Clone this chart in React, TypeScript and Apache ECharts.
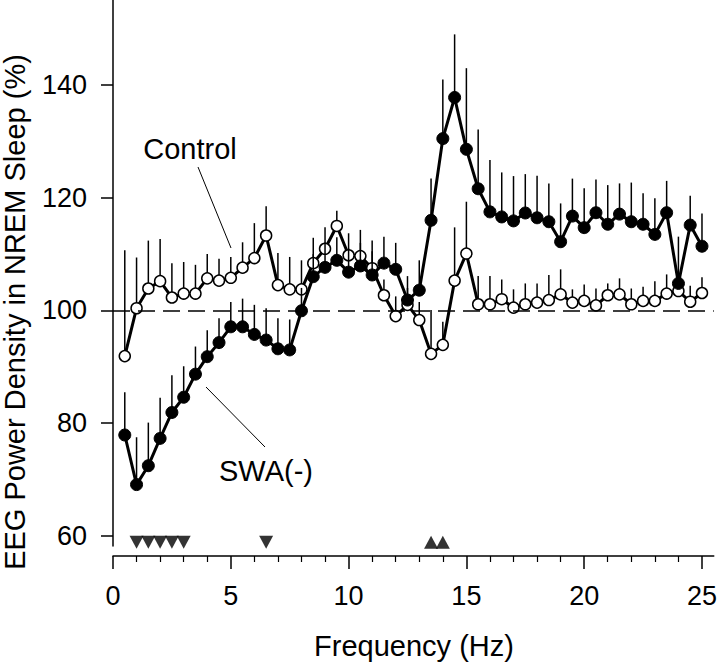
import React, { useEffect, useRef } from "react";
import * as echarts from "echarts";

const freqHz = [
  0.5, 1, 1.5, 2, 2.5, 3, 3.5, 4, 4.5, 5,
  5.5, 6, 6.5, 7, 7.5, 8, 8.5, 9, 9.5, 10,
  10.5, 11, 11.5, 12, 12.5, 13, 13.5, 14, 14.5, 15,
  15.5, 16, 16.5, 17, 17.5, 18, 18.5, 19, 19.5, 20,
  20.5, 21, 21.5, 22, 22.5, 23, 23.5, 24, 24.5, 25,
];

const controlMean = [
  91.9, 100.4, 103.9, 105.2, 102.3, 103.0, 103.0, 105.7, 105.3, 105.8,
  107.6, 109.3, 113.3, 104.5, 103.75, 103.75, 108.4, 110.95, 115.0, 109.8,
  109.65, 107.5, 102.7, 99.0, 101.0, 98.3, 92.3, 93.9, 105.3, 110.1,
  101.1, 101.1, 102.0, 100.5, 101.1, 101.4, 101.85, 102.85, 101.4, 101.7,
  100.9, 102.7, 102.85, 101.1, 101.7, 101.7, 103.0, 103.45, 101.55, 103.1,
];

const controlUpper = [
  110.7, 109.4, 112.4, 112.7, 108.4, 108.6, 108.1, 110.0, 109.2, 109.5,
  112.1, 115.5, 118.5, 110.2, 109.5, 108.9, 112.9, 114.75, 117.7, 113.7,
  114.3, 112.4, 105.5, 102.5, 104.0, 101.5, 100.1, 98.0, 114.75, 119.3,
  106.1, 106.1, 105.5, 103.75, 104.8, 104.8, 106.3, 107.3, 103.75, 104.6,
  103.9, 104.8, 105.7, 103.9, 104.2, 105.2, 106.4, 106.0, 104.4, 105.9,
];

const swaMean = [
  77.9, 69.1, 72.45, 77.3, 81.9, 84.6, 88.7, 91.8, 94.3, 97.1,
  97.1, 95.75, 94.75, 93.2, 93.0, 99.95, 106.0, 107.65, 108.9, 106.8,
  107.9, 106.3, 108.4, 107.3, 101.85, 103.6, 116.0, 130.5, 137.8, 128.6,
  121.6, 117.5, 116.6, 115.9, 117.3, 116.45, 115.75, 112.2, 116.75, 114.7,
  117.35, 115.3, 117.1, 115.75, 115.3, 113.5, 117.35, 104.8, 115.15, 111.4,
];

const swaUpper = [
  85.5, 77.5, 80.1, 84.5, 88.5, 90.1, 93.6, 96.5, 98.6, 101.5,
  102.1, 101.0, 100.4, 98.6, 98.4, 104.0, 110.0, 112.0, 113.0, 111.0,
  112.0, 110.5, 113.1, 112.0, 106.1, 108.9, 123.4, 141.0, 149.0, 143.0,
  132.1, 126.7, 124.5, 123.85, 124.2, 123.9, 122.55, 119.0, 123.4, 121.7,
  123.25, 122.25, 122.55, 122.7, 120.8, 119.9, 123.0, 113.1, 120.35, 117.2,
];

const downMarkFreqs = [1, 1.5, 2, 2.5, 3, 6.5];
const upMarkFreqs = [13.5, 14];
const markLevel = 58.85;

const yTickValues = [60, 80, 100, 120, 140];
const xMajorTicks = [0, 5, 10, 15, 20, 25];
const xMinorTicks = [1, 2, 3, 4, 6, 7, 8, 9, 11, 12, 13, 14, 16, 17, 18, 19, 21, 22, 23, 24];

const FONT = "'Liberation Sans', Arial, Helvetica, sans-serif";

function errorBarSeries(mean: number[], upper: number[], z: number) {
  return {
    type: "custom",
    z,
    silent: true,
    data: freqHz.map((f, i) => [f, mean[i], upper[i]]),
    renderItem: (params: any, api: any) => {
      const p1 = api.coord([api.value(0), api.value(1)]);
      const p2 = api.coord([api.value(0), api.value(2)]);
      return {
        type: "line",
        shape: { x1: p1[0], y1: p1[1], x2: p2[0], y2: p2[1] },
        style: { stroke: "#000", lineWidth: 1.5 },
      };
    },
  };
}

export default function App() {
  const ref = useRef<HTMLDivElement>(null);

  useEffect(() => {
    if (!ref.current) return;
    const chart = echarts.init(ref.current, null, { renderer: "svg" });
    const option: any = {
      animation: false,
      backgroundColor: "#fff",
      grid: { left: 113, right: 2, top: 0, bottom: 118 },
      xAxis: [
        {
          type: "value",
          min: 0,
          max: 25.5,
          offset: 10,
          position: "bottom",
          splitLine: { show: false },
          axisLine: { show: true, lineStyle: { color: "#000", width: 1.5 } },
          axisTick: {
            show: true,
            length: 13,
            customValues: xMajorTicks,
            lineStyle: { color: "#000", width: 1.5 },
          },
          axisLabel: {
            customValues: xMajorTicks,
            margin: 26,
            fontSize: 27,
            color: "#000",
            fontFamily: FONT,
          },
        },
        {
          type: "value",
          min: 0,
          max: 25.5,
          offset: 10,
          position: "bottom",
          splitLine: { show: false },
          axisLine: { show: false },
          axisTick: {
            show: true,
            length: 6,
            customValues: xMinorTicks,
            lineStyle: { color: "#000", width: 1.2 },
          },
          axisLabel: { show: false },
        },
      ],
      yAxis: {
        type: "value",
        min: 58.2,
        max: 155.1,
        splitLine: { show: false },
        axisLine: { show: true, lineStyle: { color: "#000", width: 1.5 } },
        axisTick: {
          show: true,
          length: 12,
          customValues: yTickValues,
          lineStyle: { color: "#000", width: 1.5 },
        },
        axisLabel: {
          customValues: yTickValues,
          margin: 26,
          fontSize: 27,
          color: "#000",
          fontFamily: FONT,
        },
      },
      series: [
        errorBarSeries(controlMean, controlUpper, 1),
        {
          type: "line",
          name: "Control",
          z: 2,
          data: freqHz.map((f, i) => [f, controlMean[i]]),
          symbol: "circle",
          symbolSize: 11,
          lineStyle: { color: "#000", width: 3 },
          itemStyle: { color: "#fff", borderColor: "#000", borderWidth: 1.5 },
          markLine: {
            silent: true,
            symbol: "none",
            label: { show: false },
            lineStyle: { color: "#000", width: 1.5, type: [17, 8] },
            data: [{ yAxis: 100 }],
          },
        },
        errorBarSeries(swaMean, swaUpper, 3),
        {
          type: "line",
          name: "SWA(-)",
          z: 4,
          data: freqHz.map((f, i) => [f, swaMean[i]]),
          symbol: "circle",
          symbolSize: 12,
          lineStyle: { color: "#000", width: 3 },
          itemStyle: { color: "#000", borderColor: "#000", borderWidth: 1 },
        },
        {
          type: "scatter",
          z: 5,
          clip: false,
          data: downMarkFreqs.map((f) => [f, markLevel]),
          symbol: "triangle",
          symbolRotate: 180,
          symbolSize: [14, 13],
          itemStyle: { color: "#000" },
        },
        {
          type: "scatter",
          z: 5,
          clip: false,
          data: upMarkFreqs.map((f) => [f, markLevel]),
          symbol: "triangle",
          symbolSize: [14, 13],
          itemStyle: { color: "#000" },
        },
      ],
      graphic: [
        {
          type: "text",
          x: 15,
          y: 312,
          rotation: Math.PI / 2,
          style: {
            text: "EEG Power Density in NREM Sleep (%)",
            font: `29px ${FONT}`,
            fill: "#000",
            textAlign: "center",
            textVerticalAlign: "middle",
          },
        },
        {
          type: "text",
          x: 414,
          y: 646,
          style: {
            text: "Frequency (Hz)",
            font: `29px ${FONT}`,
            fill: "#000",
            textAlign: "center",
            textVerticalAlign: "middle",
          },
        },
        {
          type: "text",
          x: 190,
          y: 149,
          style: {
            text: "Control",
            font: `29px ${FONT}`,
            fill: "#000",
            textAlign: "center",
            textVerticalAlign: "middle",
          },
        },
        {
          type: "line",
          shape: { x1: 198, y1: 167, x2: 231, y2: 248 },
          style: { stroke: "#000", lineWidth: 1 },
        },
        {
          type: "text",
          x: 266,
          y: 471,
          style: {
            text: "SWA(-)",
            font: `29px ${FONT}`,
            fill: "#000",
            textAlign: "center",
            textVerticalAlign: "middle",
          },
        },
        {
          type: "line",
          shape: { x1: 206, y1: 387, x2: 265, y2: 447 },
          style: { stroke: "#000", lineWidth: 1 },
        },
      ],
    };
    chart.setOption(option);
    return () => chart.dispose();
  }, []);

  return (
    <div
      ref={ref}
      style={{ position: "fixed", left: 0, top: 0, width: 720, height: 664, background: "#fff" }}
    />
  );
}
